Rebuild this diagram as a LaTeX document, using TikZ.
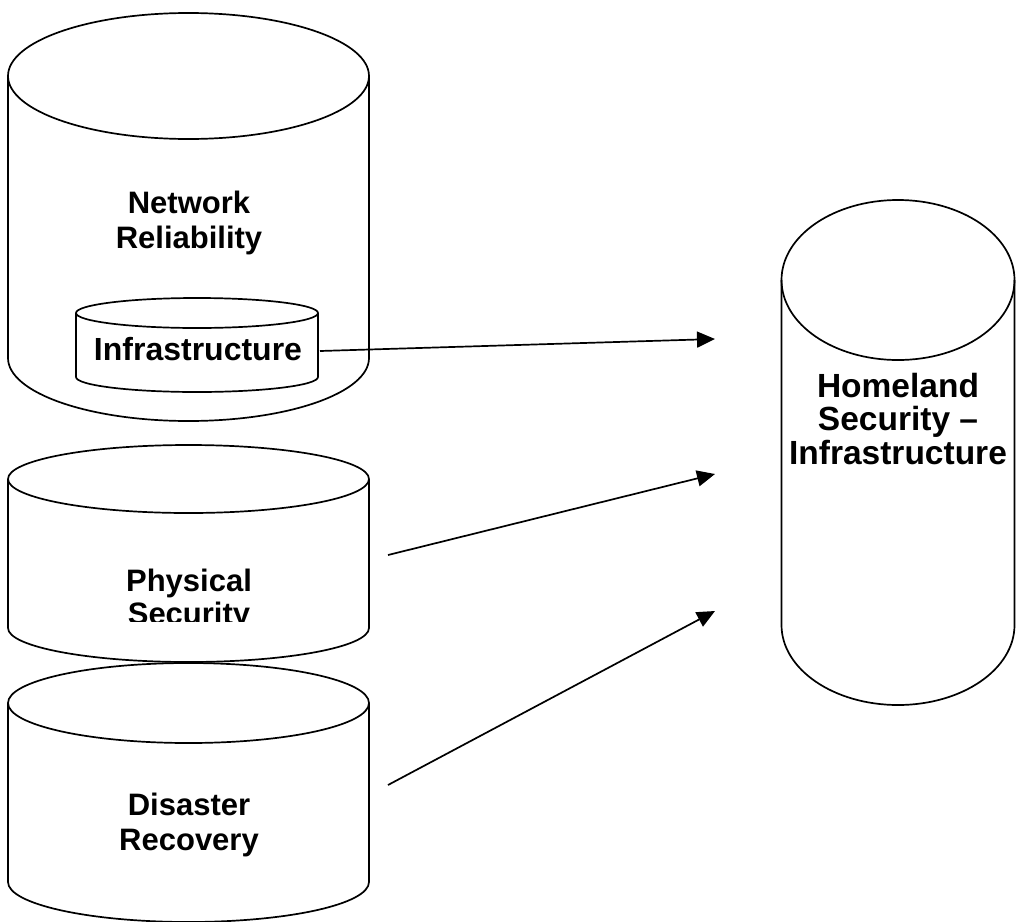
\documentclass[tikz,border=0pt]{standalone}
\usepackage{fontspec}
\setmainfont{Liberation Sans}
\usetikzlibrary{arrows.meta}
\newcommand\drawcyl[5]{% cx, top centre y, bottom centre y, rx, ry
  \draw[cylline] ({#1-#4},#2) -- ({#1-#4},#3)
     arc[start angle=180,end angle=360,x radius=#4pt,y radius=#5pt] -- ({#1+#4},#2);
  \draw[cylline] (#1,#2) ellipse[x radius=#4pt,y radius=#5pt];
}
\begin{document}
\begin{tikzpicture}[x=1pt,y=-1pt,
  cylline/.style={line width=1.7pt,black},
  lbl/.style={font=\bfseries\fontsize{31}{34.5}\selectfont,align=center,anchor=base,inner sep=0pt},
  conn/.style={line width=1.7pt,-{Triangle[length=18pt,width=16pt]}}]
\useasboundingbox (0,0) rectangle (1016,921);
% Network Reliability
\drawcyl{188.5}{76}{358}{180.5}{63}
\node[lbl] (netrel) at (189,248) {Network\\Reliability};
% Infrastructure (inner)
\drawcyl{197}{313}{377}{121}{15}
\node[lbl,font=\bfseries\fontsize{32}{34}\selectfont] (infra) at (198,360) {Infrastructure};
% Physical Security
\drawcyl{188.5}{479}{628}{180.5}{34}
\begin{scope}
\clip (0,540) rectangle (380,621);
\node[lbl,font=\bfseries\fontsize{31}{33}\selectfont] (phys) at (189,624) {Physical\\Security};
\end{scope}
% Disaster Recovery
\drawcyl{188.5}{703}{882}{180.5}{40}
\node[lbl] (dis) at (189,850) {Disaster\\Recovery};
% Homeland Security
\drawcyl{898}{280}{625}{116.5}{80}
\node[lbl,font=\bfseries\fontsize{33.5}{33.5}\selectfont] (home) at (898,464) {Homeland\\Security --\\Infrastructure};
% connectors
\coordinate (s1) at (320,351);
\coordinate (e1) at (715,339);
\coordinate (s2) at (388,555);
\coordinate (e2) at (715,474);
\coordinate (s3) at (388,785);
\coordinate (e3) at (715,611);
\draw[conn] (s1) -- (e1);
\draw[conn] (s2) -- (e2);
\draw[conn] (s3) -- (e3);
\end{tikzpicture}
\end{document}
